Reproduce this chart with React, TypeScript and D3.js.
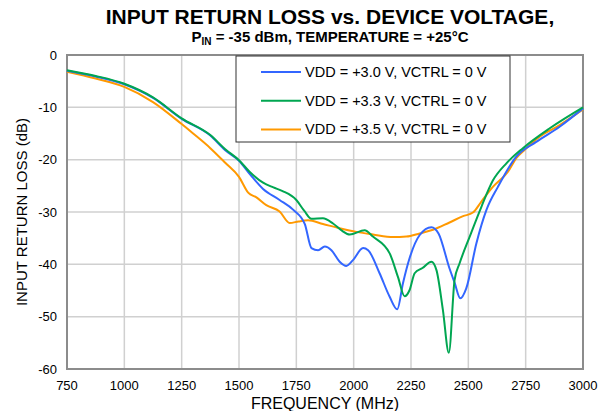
import React from 'react';
import * as d3 from 'd3';

// frequency (MHz) / return loss (dB)
const freq30 = [750, 875, 1000, 1125, 1250, 1375, 1440, 1500, 1550, 1605, 1677, 1737, 1787, 1816, 1845, 1874, 1903, 1939, 1968, 1997, 2041, 2063, 2113, 2157, 2190, 2215, 2244, 2288, 2339, 2370, 2418, 2440, 2465, 2491, 2535, 2579, 2629, 2709, 2796, 2898, 3000];
const loss30 = [-3.0, -4.1, -5.6, -8.2, -12.2, -15.4, -18.2, -20.2, -22.9, -25.6, -27.7, -29.6, -32.3, -36.9, -37.3, -36.6, -37.3, -39.5, -40.3, -39.2, -36.9, -37.3, -41.7, -46.2, -48.6, -43.6, -38.8, -34.4, -32.9, -34.1, -40.8, -43.5, -46.5, -44.6, -36.0, -29.6, -25.2, -19.4, -16.6, -13.7, -10.2];

const freq33 = [750, 875, 1000, 1125, 1250, 1375, 1440, 1500, 1546, 1605, 1650, 1690, 1750, 1785, 1816, 1866, 1910, 1950, 1983, 2048, 2084, 2157, 2193, 2222, 2244, 2266, 2300, 2339, 2361, 2389, 2415, 2440, 2462, 2506, 2557, 2607, 2666, 2738, 2855, 3000];
const loss33 = [-2.9, -4.0, -5.5, -8.1, -12.1, -15.3, -18.0, -20.1, -22.3, -24.4, -25.3, -26.0, -27.7, -29.8, -31.3, -31.2, -32.2, -33.6, -34.3, -33.5, -34.7, -37.9, -42.4, -46.1, -44.9, -41.7, -40.7, -39.5, -41.1, -48.7, -56.9, -43.0, -39.8, -34.7, -29.0, -24.0, -20.7, -17.8, -14.0, -10.0];

const freq35 = [750, 875, 1000, 1125, 1250, 1300, 1375, 1440, 1500, 1540, 1576, 1619, 1677, 1721, 1760, 1801, 1866, 1939, 2012, 2084, 2172, 2230, 2288, 2346, 2418, 2477, 2520, 2557, 2607, 2673, 2709, 2746, 2811, 2898, 3000];
const loss35 = [-3.2, -4.5, -6.1, -9.0, -13.2, -15.0, -17.8, -20.6, -23.3, -26.3, -27.2, -28.7, -29.9, -32.1, -31.8, -31.6, -32.3, -33.1, -33.8, -34.3, -34.8, -34.7, -34.1, -33.4, -32.0, -30.8, -30.1, -28.0, -25.2, -22.3, -19.7, -18.1, -15.6, -13.4, -10.4];

const seriesNames = ['VDD = +3.0 V, VCTRL = 0 V', 'VDD = +3.3 V, VCTRL = 0 V', 'VDD = +3.5 V, VCTRL = 0 V'];
const seriesColors = ['#3366ff', '#00a651', '#ff9900'];
const xTicks = [750, 1000, 1250, 1500, 1750, 2000, 2250, 2500, 2750, 3000];
const yTicks = [0, -10, -20, -30, -40, -50, -60];

const W = 607;
const H = 411;
const FONT = '"Liberation Sans", Arial, sans-serif';

export default function App() {
  const x = d3.scaleLinear().domain([750, 3000]).range([67, 583]);
  const y = d3.scaleLinear().domain([0, -60]).range([55, 369]);

  const line = d3
    .line<[number, number]>()
    .x((d) => x(d[0]))
    .y((d) => y(d[1]))
    .curve(d3.curveMonotoneX);

  const series = [
    d3.zip(freq30, loss30) as [number, number][],
    d3.zip(freq33, loss33) as [number, number][],
    d3.zip(freq35, loss35) as [number, number][],
  ];

  // legend box
  const lg = { x: 236, y: 56, w: 274, h: 86 };

  return (
    <svg width={W} height={H} style={{ position: 'absolute', left: 0, top: 0, background: '#fff' }} fontFamily={FONT}>
      <text x={330} y={24} textAnchor="middle" fontSize={21} fontWeight="bold">
        INPUT RETURN LOSS vs. DEVICE VOLTAGE,
      </text>
      <text x={330} y={42} textAnchor="middle" fontSize={15} fontWeight="bold">
        P<tspan fontSize={10} dy={3}>IN</tspan>
        <tspan dy={-3}> = -35 dBm, TEMPERATURE = +25°C</tspan>
      </text>

      {/* grid */}
      <g stroke="#d0d0d0" strokeWidth={1.5}>
        {xTicks.slice(1, -1).map((t) => (
          <line key={`gx${t}`} x1={x(t)} x2={x(t)} y1={y(0)} y2={y(-60)} />
        ))}
        {yTicks.slice(1, -1).map((t) => (
          <line key={`gy${t}`} x1={x(750)} x2={x(3000)} y1={y(t)} y2={y(t)} />
        ))}
      </g>
      <rect x={x(750)} y={y(0)} width={x(3000) - x(750)} height={y(-60) - y(0)} fill="none" stroke="#8c8c8c" strokeWidth={2} />

      {/* curves */}
      <g fill="none" strokeWidth={2} strokeLinejoin="round">
        {[2, 0, 1].map((i) => (
          <path key={i} d={line(series[i]) || ''} stroke={seriesColors[i]} />
        ))}
      </g>

      {/* tick labels */}
      <g fontSize={13} textAnchor="end">
        {yTicks.map((t) => (
          <text key={t} x={57} y={y(t) + 4.5}>{t}</text>
        ))}
      </g>
      <g fontSize={13} textAnchor="middle">
        {xTicks.map((t) => (
          <text key={t} x={x(t)} y={390}>{t}</text>
        ))}
      </g>
      <text x={325} y={409} textAnchor="middle" fontSize={16}>FREQUENCY (MHz)</text>
      <text transform="translate(27,212) rotate(-90)" textAnchor="middle" fontSize={15}>INPUT RETURN LOSS (dB)</text>

      {/* legend */}
      <rect x={lg.x} y={lg.y} width={lg.w} height={lg.h} fill="#fff" stroke="#333" strokeWidth={1} />
      {seriesNames.map((name, i) => (
        <g key={name}>
          <line x1={261} x2={301} y1={72 + i * 28.7} y2={72 + i * 28.7} stroke={seriesColors[i]} strokeWidth={2} />
          <text x={305} y={72 + i * 28.7 + 5} fontSize={14.5}>{name}</text>
        </g>
      ))}
    </svg>
  );
}
